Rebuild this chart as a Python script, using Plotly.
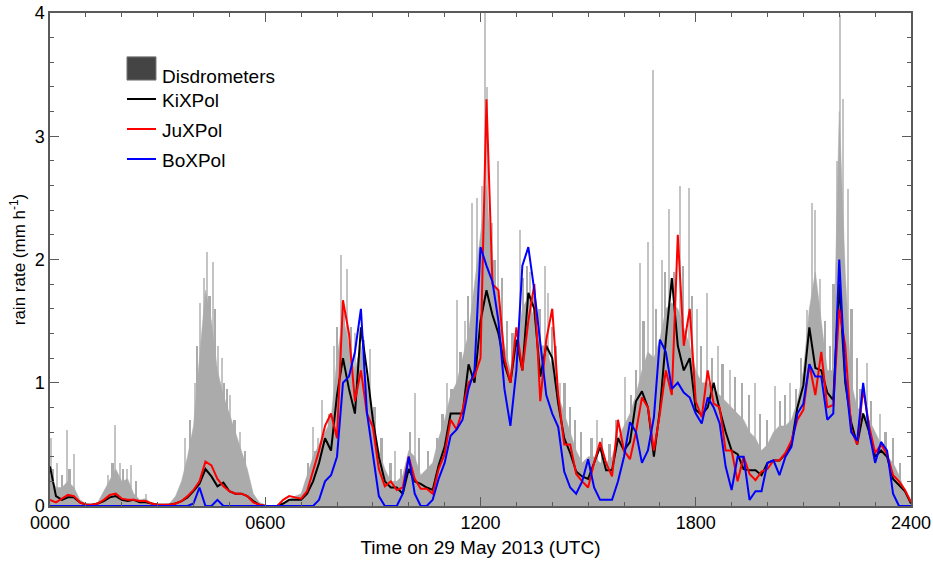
import numpy as np
import plotly.graph_objects as go

# 10-minute grid, hours after 0000 UTC
t10 = np.arange(145) / 6.0

kixpol = [0.32, 0.08, 0.05, 0.07, 0.07, 0.03, 0.01, 0.01, 0.02, 0.04, 0.07, 0.08,
          0.05, 0.04, 0.05, 0.03, 0.03, 0.02, 0.01, 0.01, 0.01, 0.02, 0.04, 0.07,
          0.12, 0.18, 0.30, 0.24, 0.16, 0.19, 0.12, 0.10, 0.10, 0.08, 0.04, 0.01,
          0.0, 0.0, 0.0, 0.02, 0.05, 0.05, 0.05, 0.10, 0.20, 0.35, 0.55, 0.45,
          0.90, 1.20, 0.95, 0.75, 1.45, 1.10, 0.70, 0.40, 0.20, 0.15, 0.15, 0.10,
          0.30, 0.20, 0.18, 0.15, 0.13, 0.33, 0.48, 0.75, 0.75, 0.75, 1.15, 1.00,
          1.50, 1.75, 1.55, 1.40, 1.15, 1.00, 1.35, 1.10, 1.73, 1.60, 1.05, 1.30,
          1.20, 0.83, 0.55, 0.43, 0.28, 0.24, 0.22, 0.35, 0.48, 0.29, 0.29, 0.55,
          0.45, 0.52, 0.85, 0.93, 0.80, 0.40, 0.78, 1.35, 1.85, 1.30, 1.10, 1.20,
          0.78, 0.74, 0.80, 1.00, 0.78, 0.60, 0.45, 0.42, 0.30, 0.29, 0.29, 0.25,
          0.35, 0.37, 0.37, 0.42, 0.50, 0.80, 0.98, 1.45, 1.12, 1.10, 0.92, 0.86,
          1.80, 1.00, 0.68, 0.50, 0.75, 0.60, 0.40, 0.45, 0.40, 0.22, 0.17, 0.12,
          0.02]

juxpol = [0.05, 0.03, 0.06, 0.09, 0.08, 0.03, 0.01, 0.01, 0.02, 0.05, 0.09, 0.10,
          0.06, 0.05, 0.05, 0.04, 0.04, 0.02, 0.01, 0.01, 0.01, 0.02, 0.04, 0.08,
          0.13, 0.20, 0.36, 0.33, 0.22, 0.16, 0.12, 0.10, 0.10, 0.08, 0.03, 0.01,
          0.0, 0.0, 0.0, 0.05, 0.08, 0.07, 0.06, 0.12, 0.28, 0.45, 0.65, 0.75,
          0.55, 1.67, 1.40, 0.85, 1.10, 0.75, 0.64, 0.30, 0.16, 0.20, 0.13, 0.15,
          0.40, 0.22, 0.14, 0.14, 0.10, 0.30, 0.42, 0.70, 0.62, 0.78, 1.00, 1.05,
          1.20, 3.30, 1.80, 1.75, 1.20, 1.00, 1.45, 1.10, 1.50, 1.80, 0.85, 1.35,
          1.60, 0.90, 0.50, 0.50, 0.26, 0.20, 0.15, 0.35, 0.52, 0.35, 0.24, 0.70,
          0.45, 0.38, 0.60, 0.88, 0.80, 0.45, 0.75, 1.10, 0.90, 2.20, 1.30, 1.60,
          0.85, 0.72, 1.10, 0.83, 0.80, 0.45, 0.45, 0.20, 0.40, 0.26, 0.21, 0.28,
          0.30, 0.37, 0.37, 0.43, 0.53, 0.70, 0.78, 1.15, 0.90, 1.25, 0.80, 0.82,
          1.60, 1.30, 0.62, 0.50, 0.95, 0.65, 0.43, 0.50, 0.42, 0.25, 0.20, 0.13,
          0.03]

boxpol = [0.0, 0.0, 0.0, 0.0, 0.0, 0.0, 0.0, 0.0, 0.0, 0.0, 0.0, 0.0,
          0.0, 0.0, 0.0, 0.0, 0.0, 0.0, 0.0, 0.0, 0.0, 0.0, 0.0, 0.0,
          0.02, 0.15, 0.0, 0.0, 0.05, 0.0, 0.0, 0.0, 0.0, 0.0, 0.0, 0.0,
          0.0, 0.0, 0.0, 0.0, 0.0, 0.0, 0.0, 0.0, 0.0, 0.05, 0.20, 0.25,
          0.40, 1.00, 1.05, 1.25, 1.60, 0.76, 0.40, 0.08, 0.0, 0.0, 0.0, 0.10,
          0.40, 0.10, 0.0, 0.0, 0.05, 0.22, 0.35, 0.57, 0.62, 0.70, 0.95, 1.10,
          2.10, 1.95, 1.82, 1.50, 0.95, 0.65, 1.10, 1.95, 2.10, 1.75, 1.30, 0.90,
          0.75, 0.64, 0.28, 0.15, 0.10, 0.20, 0.38, 0.15, 0.05, 0.05, 0.05, 0.20,
          0.40, 0.68, 0.60, 0.35, 0.45, 0.72, 1.35, 1.25, 0.95, 1.00, 0.92, 0.88,
          0.75, 0.67, 0.88, 0.80, 0.67, 0.32, 0.13, 0.40, 0.40, 0.05, 0.12, 0.12,
          0.35, 0.37, 0.25, 0.40, 0.48, 0.75, 0.83, 1.15, 1.05, 1.05, 0.70, 0.75,
          2.00, 1.05, 0.60, 0.53, 1.00, 0.60, 0.35, 0.52, 0.45, 0.10, 0.0, 0.0,
          0.0]

# disdrometer rain rate, main band (10-min grid)
disdro = [0.25, 0.15, 0.15, 0.20, 0.15, 0.05, 0.02, 0.01, 0.03, 0.12, 0.20, 0.30,
          0.20, 0.22, 0.10, 0.05, 0.06, 0.02, 0.01, 0.01, 0.02, 0.08, 0.20, 0.40,
          0.65, 1.20, 1.75, 1.50, 1.10, 0.90, 0.75, 0.60, 0.45, 0.30, 0.10, 0.03,
          0.01, 0.0, 0.0, 0.02, 0.05, 0.08, 0.10, 0.25, 0.40, 0.50, 0.60, 0.70,
          1.20, 1.55, 1.30, 1.10, 1.30, 1.00, 0.70, 0.45, 0.30, 0.20, 0.20, 0.25,
          0.45, 0.40, 0.25, 0.30, 0.35, 0.55, 0.70, 0.90, 1.00, 1.20, 1.40, 1.80,
          2.20, 2.60, 1.90, 1.70, 1.30, 1.10, 1.30, 1.60, 1.70, 1.50, 1.30, 1.30,
          1.10, 0.90, 0.75, 0.60, 0.45, 0.35, 0.40, 0.40, 0.35, 0.35, 0.40, 0.55,
          0.65, 0.75, 0.90, 1.10, 1.25, 1.20, 1.35, 1.60, 1.65, 1.60, 1.45, 1.30,
          1.10, 1.00, 1.00, 0.95, 0.90, 0.85, 0.80, 0.75, 0.70, 0.60, 0.55, 0.45,
          0.50, 0.60, 0.65, 0.65, 0.70, 0.85, 1.10, 1.60, 1.90, 1.50, 1.10, 1.10,
          3.20, 1.90, 1.00, 0.80, 0.75, 0.70, 0.60, 0.50, 0.40, 0.35, 0.25, 0.12,
          0.05]

# tall individual disdrometer spikes (hours, mm/h)
spike_t = [0.03, 0.20, 0.47, 0.67, 1.62, 1.81, 1.95, 2.15, 2.26, 2.68, 3.76, 4.04,
           4.18, 4.29, 4.38, 4.54, 4.68, 4.79, 5.02, 5.30, 7.33, 7.47, 7.58, 7.92,
           8.11, 8.28, 8.50, 8.92, 9.62, 10.17, 11.07, 11.34, 11.57, 11.76, 11.90,
           12.04, 12.13, 12.18, 12.32, 12.49, 13.10, 13.38, 13.80, 13.88, 14.22,
           15.25, 16.03, 16.45, 16.67, 16.81, 17.06, 17.25, 17.56, 17.81, 18.03,
           18.31, 18.62, 18.95, 19.65, 20.21, 20.63, 21.10, 21.24, 21.32, 21.46,
           21.94, 22.02, 22.10, 22.24, 22.77, 23.14]
spike_v = [0.55, 0.35, 0.62, 0.42, 0.25, 0.66, 0.35, 0.30, 0.33, 0.10, 0.55, 1.00,
           1.65, 1.85, 2.06, 1.98, 1.30, 1.20, 0.90, 0.60, 0.64, 0.55, 0.86, 1.30,
           2.04, 1.92, 1.40, 1.27, 0.45, 0.92, 1.00, 1.67, 1.50, 2.46, 2.50,
           2.60, 4.00, 3.40, 2.30, 2.80, 2.24, 1.90, 1.95, 1.73, 1.00,
           0.70, 1.05, 1.97, 2.14, 3.54, 2.00, 2.41, 2.60, 2.58, 1.60,
           1.73, 1.30, 1.10, 1.00, 0.97, 1.00, 1.59, 2.46, 2.40, 1.84,
           2.80, 3.98, 3.30, 2.57, 1.16, 0.75]

# shorter spikes giving the band its ragged top
mid_t = [0.10, 0.35, 0.55, 1.75, 2.05, 2.40, 3.90, 4.10, 4.45, 4.60, 4.85, 4.95,
         5.15, 5.45, 7.20, 7.40, 7.70, 7.80, 8.00, 8.20, 8.40, 8.60, 8.75, 9.05,
         9.25, 9.50, 9.80, 10.05, 10.30, 10.55, 10.80, 10.95, 11.20, 11.45, 11.65,
         12.25, 12.40, 12.60, 12.75, 12.90, 13.20, 13.30, 13.50, 13.65, 14.00,
         14.10, 14.35, 14.50, 14.65, 14.80, 15.10, 15.40, 15.60, 15.80, 16.20,
         16.35, 16.55, 16.90, 17.15, 17.40, 17.65, 17.90, 18.15, 18.45, 18.75,
         19.10, 19.30, 19.50, 19.80, 20.00, 20.35, 20.50, 20.80, 20.95, 21.60,
         21.75, 21.85, 22.35, 22.50, 22.60, 22.90, 23.30, 23.50, 23.70]
mid_v = [0.30, 0.25, 0.30, 0.35, 0.30, 0.20, 0.70, 1.30, 1.70, 1.60, 1.00, 0.95,
         0.70, 0.45, 0.35, 0.45, 0.60, 0.75, 1.45, 1.60, 1.45, 1.20, 1.35, 0.80,
         0.55, 0.35, 0.30, 0.60, 0.55, 0.45, 0.55, 0.75, 0.95, 1.25, 1.70,
         2.10, 2.00, 1.85, 1.50, 1.40, 1.85, 1.95, 1.70, 1.60, 1.45,
         1.30, 1.00, 0.80, 0.70, 0.60, 0.55, 0.55, 0.50, 0.70, 0.90,
         1.10, 1.50, 1.60, 1.90, 1.90, 1.95, 1.70, 1.30, 1.20, 1.15,
         1.05, 1.00, 0.90, 0.75, 0.70, 0.85, 0.90, 0.95, 1.20, 1.50,
         1.30, 1.80, 1.60, 1.20, 0.95, 0.85, 0.60, 0.55, 0.35]

x_ticks = [0, 6, 12, 18, 24]
x_labels = ["0000", "0600", "1200", "1800", "2400"]

FONT = "Arial, Liberation Sans, sans-serif"
AXC = "#5a5a5a"
GRAY = "#ababab"

fig = go.Figure()
fig.add_trace(go.Bar(x=spike_t, y=spike_v, width=0.035,
                     marker=dict(color="#c4c4c4", line=dict(width=0)),
                     showlegend=False))
fig.add_trace(go.Bar(x=mid_t, y=mid_v, width=0.05,
                     marker=dict(color=GRAY, line=dict(width=0)),
                     showlegend=False))
fig.add_trace(go.Scatter(x=t10, y=disdro, mode="lines", fill="tozeroy",
                         fillcolor=GRAY, line=dict(color=GRAY, width=0.5),
                         showlegend=False))
fig.add_trace(go.Scatter(x=t10, y=kixpol, mode="lines",
                         line=dict(color="black", width=2), showlegend=False))
fig.add_trace(go.Scatter(x=t10, y=juxpol, mode="lines",
                         line=dict(color="#ff0000", width=2), showlegend=False))
fig.add_trace(go.Scatter(x=t10, y=boxpol, mode="lines",
                         line=dict(color="#0000ff", width=2), showlegend=False))

# hand-drawn legend like the original
fig.add_shape(type="rect", xref="paper", yref="paper",
              x0=0.0894, x1=0.1231, y0=0.864, y1=0.911,
              fillcolor="#444444", line=dict(color="#777777", width=1))
leg = [("KiXPol", "black", 0.8256), ("JuXPol", "#ff0000", 0.7647),
       ("BoXPol", "#0000ff", 0.7039)]
for name, col, yy in leg:
    fig.add_shape(type="line", xref="paper", yref="paper",
                  x0=0.0894, x1=0.1231, y0=yy, y1=yy,
                  line=dict(color=col, width=2))
    fig.add_annotation(xref="paper", yref="paper", x=0.1278, y=yy - 0.004,
                       text=name, showarrow=False, xanchor="left", yanchor="middle",
                       font=dict(family=FONT, size=19, color="black"))
fig.add_annotation(xref="paper", yref="paper", x=0.1278, y=0.872,
                   text="Disdrometers", showarrow=False, xanchor="left",
                   yanchor="middle", font=dict(family=FONT, size=19, color="black"))

fig.update_layout(
    width=933, height=565,
    plot_bgcolor="white", paper_bgcolor="white",
    margin=dict(l=50, r=22, t=13, b=59),
    font=dict(family=FONT, size=16, color="black"),
    bargap=0, barmode="overlay",
    xaxis=dict(range=[0, 24], tickvals=x_ticks, ticktext=x_labels,
               ticks="inside", ticklen=9, tickwidth=1, tickcolor=AXC,
               showline=True, linecolor=AXC, linewidth=1.5, mirror="ticks",
               showgrid=False, zeroline=False, automargin=False,
               minor=dict(dtick=1, ticks="inside", ticklen=4, tickcolor=AXC),
               tickfont=dict(size=18),
               title=dict(text="Time on 29 May 2013 (UTC)", font=dict(size=19),
                          standoff=8)),
    yaxis=dict(range=[0, 4], dtick=1, ticks="inside", ticklen=9, tickwidth=1,
               tickcolor=AXC, showline=True, linecolor=AXC, linewidth=1.5,
               mirror="ticks", showgrid=False, zeroline=False, automargin=False,
               minor=dict(dtick=0.2, ticks="inside", ticklen=4, tickcolor=AXC),
               tickfont=dict(size=18),
               title=dict(text="rain rate (mm h<sup>-1</sup>)", font=dict(size=17),
                          standoff=5)),
)

fig.write_html("out.html", config={"displayModeBar": False},
               post_script="document.body.style.margin='0';")
